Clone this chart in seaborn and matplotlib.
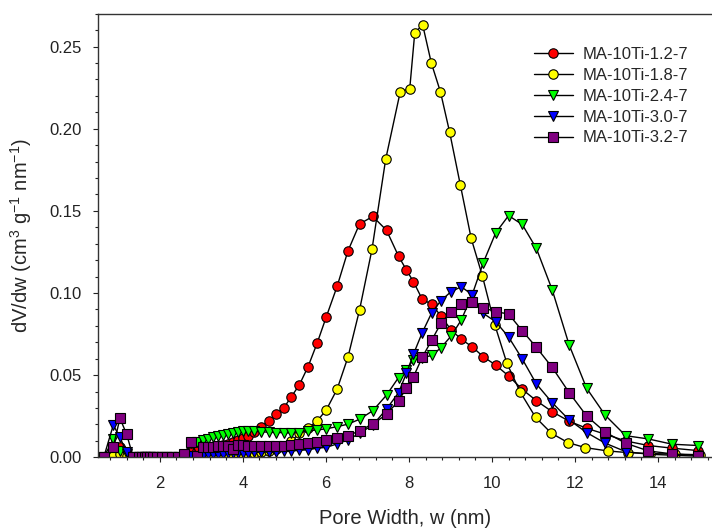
import matplotlib
matplotlib.use("Agg")
import matplotlib.pyplot as plt
import seaborn as sns
from matplotlib.ticker import MultipleLocator, FormatStrFormatter

sns.set_style("ticks")
plt.rcParams['font.family'] = ['Liberation Sans', 'DejaVu Sans']
plt.rcParams['mathtext.default'] = 'regular'

## Data read off the pore size distribution (BJH-like grid)
# pore width grid (nm) shared by most samples
width = [0.65, 0.88, 1.04, 1.20, 1.36, 1.50, 1.58, 1.64, 1.70, 1.76, 1.84, 1.94, 2.06, 2.18,
         2.30, 2.43, 2.58, 2.76, 2.90, 3.05, 3.16, 3.28, 3.40, 3.52, 3.64, 3.76, 3.88, 4.00,
         4.12, 4.26, 4.44, 4.62, 4.80, 4.98, 5.17, 5.36, 5.57, 5.79, 6.01, 6.27, 6.53, 6.81,
         7.13, 7.46, 7.75, 7.94, 8.11, 8.32, 8.55, 8.77, 9.01, 9.26, 9.52, 9.79, 10.09, 10.40,
         10.73, 11.07, 11.45, 11.86, 12.28, 12.73, 13.22, 13.77, 14.34, 14.97]

# the 1.8-7 sample sits on a slightly shifted grid
width_18 = [0.65, 0.88, 1.04, 1.20, 1.36, 1.50, 1.58, 1.64, 1.70, 1.76, 1.84, 1.94, 2.06, 2.18,
            2.30, 2.43, 2.58, 2.76, 2.90, 3.05, 3.16, 3.28, 3.40, 3.52, 3.64, 3.76, 3.88, 4.00,
            4.12, 4.26, 4.44, 4.62, 4.80, 4.98, 5.17, 5.36, 5.57, 5.79, 6.01, 6.27, 6.53, 6.81,
            7.11, 7.44, 7.79, 8.02, 8.14, 8.33, 8.54, 8.76, 8.98, 9.24, 9.50, 9.77, 10.07, 10.36,
            10.68, 11.05, 11.43, 11.83, 12.25, 12.79, 13.27, 13.80, 14.40, 15.00]

dvdw_12 = [0.0, 0.004, 0.006, 0.001, 0.0, 0.0, 0.0, 0.0, 0.0, 0.0, 0.0, 0.0, 0.0, 0.0,
           0.0, 0.0, 0.001, 0.003, 0.004, 0.005, 0.0055, 0.006, 0.0068, 0.0075, 0.0082, 0.009, 0.0102, 0.0116,
           0.0132, 0.0155, 0.0186, 0.0223, 0.0261, 0.0298, 0.0369, 0.0440, 0.0551, 0.0695, 0.0855, 0.1040, 0.1255, 0.1420,
           0.1466, 0.1382, 0.1224, 0.1140, 0.1068, 0.0962, 0.0931, 0.0860, 0.0777, 0.0718, 0.0673, 0.0612, 0.0561, 0.0495,
           0.0413, 0.0344, 0.0277, 0.0219, 0.0176, 0.0140, 0.0099, 0.0071, 0.0055, 0.0040]

dvdw_18 = [0.0, 0.001, 0.002, 0.001, 0.0, 0.0, 0.0, 0.0, 0.0, 0.0, 0.0, 0.0, 0.0, 0.0,
           0.0, 0.0, 0.0005, 0.001, 0.001, 0.0012, 0.0013, 0.0014, 0.0015, 0.0015, 0.0016, 0.0017, 0.0018, 0.0019,
           0.0020, 0.0024, 0.0030, 0.0040, 0.0052, 0.0070, 0.0098, 0.0146, 0.0178, 0.0221, 0.0288, 0.0414, 0.0608, 0.0896,
           0.1265, 0.1814, 0.2224, 0.2245, 0.2583, 0.2634, 0.2400, 0.2224, 0.1980, 0.1656, 0.1332, 0.1103, 0.0805, 0.0572,
           0.0397, 0.0243, 0.0146, 0.0089, 0.0058, 0.0038, 0.0028, 0.0022, 0.0019, 0.0015]

dvdw_24 = [0.0, 0.011, 0.004, 0.002, 0.0, 0.0, 0.0, 0.0, 0.0, 0.0, 0.0, 0.0, 0.0, 0.0,
           0.0, 0.0, 0.001, 0.0085, 0.0095, 0.0105, 0.0112, 0.0120, 0.0127, 0.0134, 0.0141, 0.0147, 0.0153, 0.0157,
           0.0158, 0.0157, 0.0155, 0.0152, 0.0150, 0.0150, 0.0147, 0.0150, 0.0160, 0.0166, 0.0173, 0.0186, 0.0201, 0.0231,
           0.0283, 0.0378, 0.0485, 0.0533, 0.0594, 0.0605, 0.0620, 0.0666, 0.0736, 0.0835, 0.0987, 0.1184, 0.1366, 0.1471,
           0.1417, 0.1271, 0.1020, 0.0683, 0.0420, 0.0255, 0.0131, 0.0111, 0.0079, 0.0071]

dvdw_30 = [0.0, 0.0196, 0.012, 0.003, 0.0, 0.0, 0.0, 0.0, 0.0, 0.0, 0.0, 0.0, 0.0, 0.0,
           0.0, 0.0, 0.0, 0.0005, 0.001, 0.0015, 0.0020, 0.0020, 0.0022, 0.0022, 0.0024, 0.0025, 0.0026, 0.0027,
           0.0028, 0.0030, 0.0030, 0.0032, 0.0033, 0.0035, 0.0038, 0.0042, 0.0045, 0.0055, 0.0060, 0.0081, 0.0105, 0.0146,
           0.0196, 0.0293, 0.0393, 0.0511, 0.0628, 0.0758, 0.0880, 0.0953, 0.1007, 0.1038, 0.0990, 0.0876, 0.0825, 0.0732,
           0.0598, 0.0446, 0.0332, 0.0227, 0.0150, 0.0085, 0.0034, 0.0018, 0.0012, 0.0006]

dvdw_32 = [0.0, 0.0065, 0.0237, 0.014, 0.0, 0.0, 0.0, 0.0, 0.0, 0.0, 0.0, 0.0, 0.0, 0.0,
           0.0, 0.0, 0.002, 0.0095, 0.001, 0.0060, 0.0062, 0.0065, 0.0066, 0.0067, 0.0068, 0.0052, 0.0072, 0.0072,
           0.0071, 0.0070, 0.0070, 0.0070, 0.0071, 0.0071, 0.0073, 0.0081, 0.0085, 0.0095, 0.0105, 0.0116, 0.0130, 0.0161,
           0.0203, 0.0260, 0.0344, 0.0420, 0.0490, 0.0608, 0.0713, 0.0815, 0.0886, 0.0931, 0.0947, 0.0910, 0.0886, 0.0872,
           0.0770, 0.0669, 0.0547, 0.0393, 0.0251, 0.0152, 0.0085, 0.0038, 0.0020, 0.0010]

labels = ['MA-10Ti-1.2-7', 'MA-10Ti-1.8-7', 'MA-10Ti-2.4-7', 'MA-10Ti-3.0-7', 'MA-10Ti-3.2-7']
face_colors = ['#ff0000', '#ffff00', '#00ff00', '#0000ff', '#800080']
markers = ['o', 'o', 'v', 'v', 's']
marker_sizes = [6.8, 6.8, 7.5, 7.5, 7.0]

## Plot
fig = plt.figure(figsize=(7.12, 5.31), dpi=100)
ax = fig.add_axes([0.137, 0.139, 0.863, 0.835])

xs = [width, width_18, width, width, width]
ys = [dvdw_12, dvdw_18, dvdw_24, dvdw_30, dvdw_32]
for wx, vals, lab, fc, mk, ms in zip(xs, ys, labels, face_colors, markers, marker_sizes):
    sns.lineplot(x=wx, y=vals, ax=ax, sort=False, estimator=None,
                 color='black', lw=1.0, marker=mk, markersize=ms,
                 markerfacecolor=fc, markeredgecolor='black', markeredgewidth=0.8,
                 label=lab)

ax.set_xlim(0.5, 15.3)
ax.set_ylim(0, 0.27)
ax.xaxis.set_major_locator(MultipleLocator(2))
ax.xaxis.set_minor_locator(MultipleLocator(0.4))
ax.yaxis.set_major_locator(MultipleLocator(0.05))
ax.yaxis.set_minor_locator(MultipleLocator(0.01))
ax.yaxis.set_major_formatter(FormatStrFormatter('%.2f'))

ax.tick_params(which='major', direction='out', length=3.6, width=0.8, labelsize=12, colors='#222222')
ax.tick_params(which='minor', direction='out', length=2.3, width=0.8, colors='#222222')
ax.tick_params(axis='x', which='major', pad=10)
ax.tick_params(axis='y', which='major', pad=8)

for side in ['left', 'bottom', 'top']:
    ax.spines[side].set_linewidth(1.0)
    ax.spines[side].set_color('#333333')
ax.spines['right'].set_visible(False)

ax.set_xlabel('Pore Width, w (nm)', fontsize=14.5, labelpad=13)
ax.set_ylabel('dV/dw (cm$^3$ g$^{-1}$ nm$^{-1}$)', fontsize=14.5, labelpad=11)

handles, labs = ax.get_legend_handles_labels()
ax.legend(handles, labs, loc='upper left', bbox_to_anchor=(0.71, 0.925), frameon=False,
          borderaxespad=0, borderpad=0, handlelength=2.35, handletextpad=0.6,
          labelspacing=0.35, fontsize=12)

plt.savefig('out.png', dpi=100)
